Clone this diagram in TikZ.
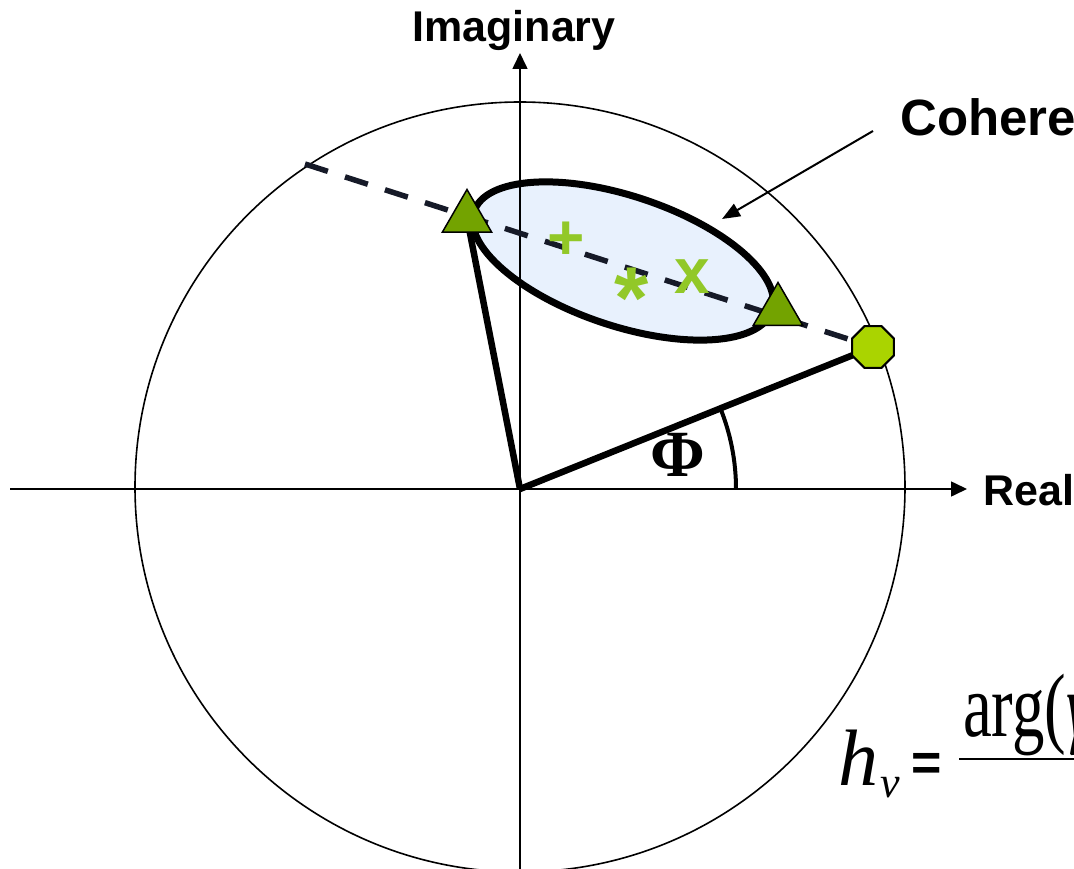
\documentclass[tikz,border=0pt]{standalone}
\usepackage{graphicx}
\usepackage{fontspec}
\setmainfont{Liberation Serif}
\setsansfont{Liberation Sans}
\usetikzlibrary{shapes.geometric,arrows.meta,calc}
\definecolor{trigreen}{RGB}{115,163,0}
\definecolor{octgreen}{RGB}{170,212,0}
\definecolor{markgreen}{RGB}{146,200,40}
\definecolor{ellblue}{RGB}{232,241,253}
\definecolor{dashnavy}{RGB}{22,26,40}
\begin{document}
\begin{tikzpicture}[x=1pt,y=-1pt,
  thinline/.style={line width=1.6pt, black},
  thickline/.style={line width=6.5pt, black},
  axisarrow/.style={thinline, -{Triangle[length=16pt,width=15pt]}},
  tri/.style={regular polygon, regular polygon sides=3, minimum size=57pt, inner sep=0pt, fill=trigreen, draw=black, line width=1.5pt},
  octa/.style={regular polygon, regular polygon sides=8, minimum size=45pt, inner sep=0pt, fill=octgreen, draw=black, line width=2pt},
  markstyle/.style={text=markgreen, font=\sffamily\bfseries\fontsize{64}{70}\selectfont, inner sep=0pt, anchor=base},
  axislabel/.style={font=\sffamily\bfseries\fontsize{43}{50}\selectfont, inner sep=0pt},
  dashline/.style={line width=5.5pt, dashnavy, dash pattern=on 24pt off 18pt},
  pointer/.style={line width=2pt, black, -{Triangle[length=18pt,width=14pt]}}
]
\useasboundingbox (0,0) rectangle (1074,869);
\clip (0,0) rectangle (1074,869);

% key points
\coordinate (O) at (520,489);
\coordinate (C) at (520,487);
\coordinate (xl) at (10,489);
\coordinate (xr) at (967,489);
\coordinate (yb) at (520,880);
\coordinate (yt) at (520,53);
\coordinate (tlc) at (467,218);
\coordinate (trc) at (778,311);
\coordinate (octc) at (873,347);
\coordinate (dstart) at (305,164);
\coordinate (arcstart) at (736,489);

% unit circle
\draw[thinline] (C) circle[radius=385pt];

% coherence region
\node[ellipse, minimum width=314pt, minimum height=130pt, inner sep=0pt,
      rotate=-18.4, draw=black, line width=7pt, fill=ellblue] (ell) at (623,261) {};

% axes
\draw[axisarrow] (xl) -- (xr);
\draw[axisarrow] (yb) -- (yt);

% thick vectors
\draw[thickline] (O) -- (tlc);
\draw[thickline] (O) -- (octc);

% angle arc
\draw[line width=4pt] (arcstart) arc[start angle=0, end angle=22, radius=216pt];

% dashed line
\draw[dashline] (dstart) -- (octc);

% markers
\node[tri] (tl) at (tlc) {};
\node[tri] (tr) at (trc) {};
\node[octa] (oct) at (octc) {};

\node[markstyle] (plus) at (566,260) {+};
\node[markstyle, font=\sffamily\bfseries\fontsize{88}{96}\selectfont] (ast) at (632,328) {*};
\node[markstyle] (cross) at (692,294) {x};

% labels
\node[axislabel, anchor=base] (imag) at (514,42) {Imaginary};
\node[axislabel, anchor=base west] (real) at (983,505) {Real};
\node[font=\sffamily\bfseries\fontsize{51}{60}\selectfont, inner sep=0pt, anchor=base west] (coh) at (900,136) {Coherence};
\coordinate (cohtail) at (873,131);
\coordinate (cohtip) at (722,219);
\draw[pointer] (cohtail) -- (cohtip);

\node[font=\bfseries\fontsize{66}{70}\selectfont, inner sep=0pt] (phi) at (678,455) {Φ};

% formula
\node[font=\itshape\fontsize{80}{90}\selectfont, inner sep=0pt, anchor=base west] (h) at (838,785) {h};
\node[font=\itshape\fontsize{44}{50}\selectfont, inner sep=0pt, anchor=base west] (v) at (880,797) {v};
\node[font=\sffamily\bfseries\fontsize{52}{60}\selectfont, inner sep=0pt, anchor=base] (eq) at (927,780) {=};
\coordinate (fl) at (959,759);
\coordinate (fr) at (1080,759);
\draw[line width=2pt] (fl) -- (fr);
\node[font=\fontsize{90}{100}\selectfont, inner sep=0pt, anchor=base west] (arg) at (963,736) {\scalebox{0.72}[1]{arg(\textit{γ}}};
\end{tikzpicture}
\end{document}
